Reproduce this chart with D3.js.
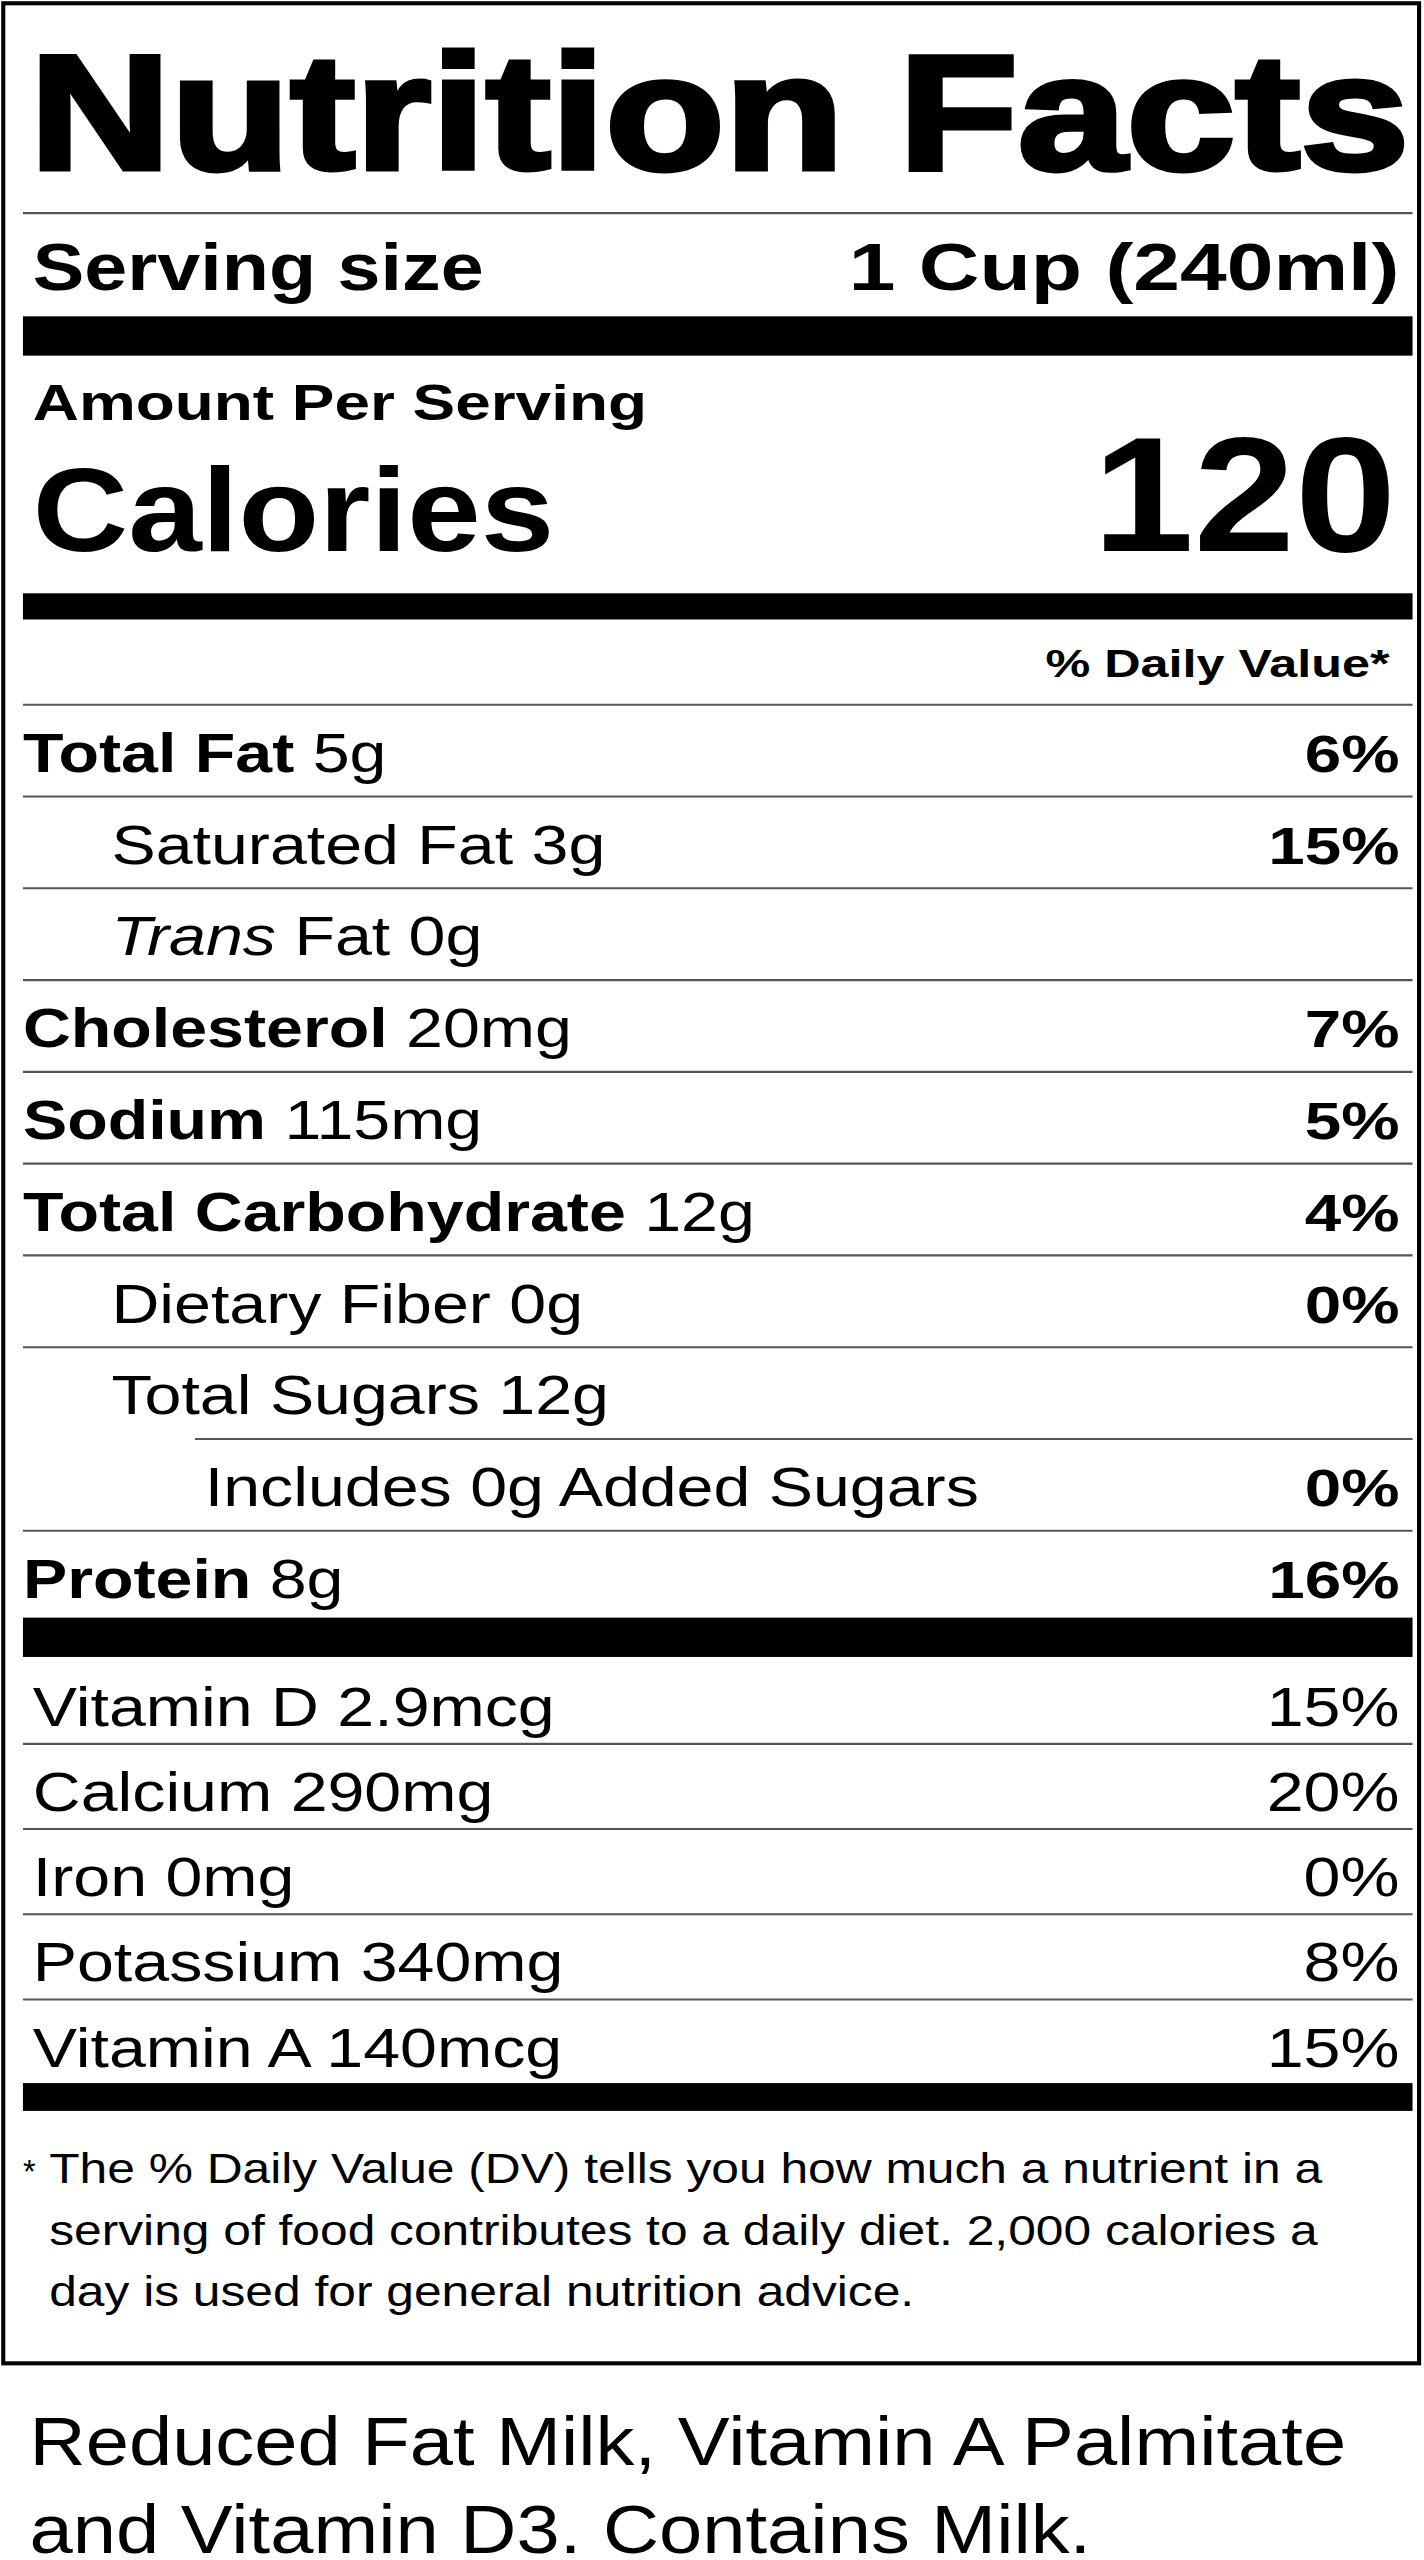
<!DOCTYPE html>
<html><head><meta charset="utf-8">
<script src="https://cdn.jsdelivr.net/npm/d3@7"></script>
<style>body{margin:0;background:#fff}svg{display:block}</style>
</head><body>
<script>
const title = "Nutrition Facts";
const servingLabel = "Serving size", servingValue = "1 Cup (240ml)";
const caloriesValue = "120";
const nutrientNames = ["Total Fat","Saturated Fat","Trans","Cholesterol","Sodium","Total Carbohydrate","Dietary Fiber","Total Sugars","Includes 0g Added Sugars","Protein"];
const nutrientAmounts = ["5g","3g","Fat 0g","20mg","115mg","12g","0g","12g","","8g"];
const nutrientDV = ["6%","15%","","7%","5%","4%","0%","","0%","16%"];
const nutrientLevel = [0,1,1,0,0,0,1,1,2,0];
const vitaminNames = ["Vitamin D 2.9mcg","Calcium 290mg","Iron 0mg","Potassium 340mg","Vitamin A 140mcg"];
const vitaminDV = ["15%","20%","0%","8%","15%"];
const footnote = ["The % Daily Value (DV) tells you how much a nutrient in a","serving of food contributes to a daily diet. 2,000 calories a","day is used for general nutrition advice."];
const ingredients = ["Reduced Fat Milk, Vitamin A Palmitate","and Vitamin D3. Contains Milk."];

const W=869,H=1562,L=14,R=862,TR=854;
const svg=d3.select("body").append("svg").attr("width",1424).attr("height",2560)
  .attr("viewBox",`0 0 ${W} ${H}`).attr("preserveAspectRatio","none")
  .style("font-family","'Liberation Sans',Arial,sans-serif");
svg.append("rect").attr("x",2).attr("y",2).attr("width",864).attr("height",1440).attr("fill","none").attr("stroke","#000").attr("stroke-width",2.5);
const txt=(x,y,s,size,wt,anchor,k)=>svg.append("g").attr("transform",`translate(${x},${y}) scale(${k||1.19},1)`)
  .append("text").text(s).attr("font-size",size).attr("font-weight",wt||"normal").attr("text-anchor",anchor||"start").attr("fill","#000");
const thin=(y,x0)=>svg.append("line").attr("x1",x0||L).attr("x2",R).attr("y1",y).attr("y2",y).attr("stroke","#555").attr("stroke-width",1.3);
const bar=(y,h)=>svg.append("rect").attr("x",L).attr("y",y).attr("width",R-L).attr("height",h).attr("fill","#000");

svg.append("text").attr("x",18).attr("y",103).text(title).attr("font-size",100).attr("font-weight","bold")
  .attr("textLength",842).attr("lengthAdjust","spacingAndGlyphs").attr("stroke","#000").attr("stroke-width",3);
thin(130);
txt(20,177,servingLabel,41,"bold","start",1.15);
txt(TR,177,servingValue,41,"bold","end",1.25);
bar(193,24);
txt(20,256,"Amount Per Serving",30,"bold","start",1.3);
txt(20,336,"Calories",72,"bold","start",1.12);
txt(852,336,caloriesValue,100,"bold","end",1.11);
bar(362,16);
txt(848,413,"% Daily Value*",24,"bold","end",1.28);
thin(430);

const yRow=d3.scaleLinear().domain([0,1]).range([430,486]);
const indentX=[14,68,125];
nutrientNames.forEach((n,i)=>{
  const base=yRow(i)+41, lv=nutrientLevel[i];
  const t=txt(indentX[lv],base,"",34,"normal","start",1.19);
  if(lv===0){t.append("tspan").attr("font-weight","bold").text(n);t.append("tspan").text(" "+nutrientAmounts[i]);}
  else if(n==="Trans"){t.append("tspan").attr("font-style","italic").text(n);t.append("tspan").text(" "+nutrientAmounts[i]);}
  else t.text(n+(nutrientAmounts[i]?" "+nutrientAmounts[i]:""));
  if(nutrientDV[i]) txt(TR,base,nutrientDV[i],32,"bold","end",1.25);
  if(i<nutrientNames.length-1){
    const ny=yRow(i+1), nextLv=nutrientLevel[i+1];
    thin(ny, nextLv===2?119:L);
  }
});
bar(987,24);
const yVit=d3.scaleLinear().domain([0,1]).range([1011,1063]);
vitaminNames.forEach((n,i)=>{
  const base=yVit(i)+42;
  txt(20,base,n,34,"normal","start",1.19);
  txt(TR,base,vitaminDV[i],34,"normal","end",1.19);
  if(i<vitaminNames.length-1) thin(yVit(i+1)+1);
});
bar(1271,17);
txt(14,1332,"*",20,"normal","start",1);
footnote.forEach((f,i)=>txt(30,1332+i*37.5,f,25.5,"normal","start",1.19));
ingredients.forEach((f,i)=>txt(18,1504+i*54,f,42,"normal","start",1.13));
</script>
</body></html>
